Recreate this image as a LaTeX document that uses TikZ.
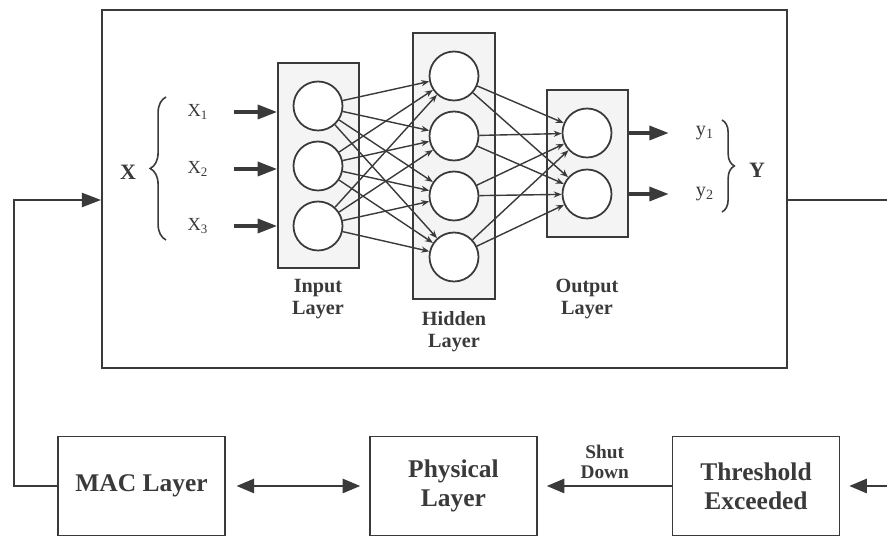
\documentclass[tikz,border=0pt]{standalone}
\usepackage{fontspec}
\setmainfont{Liberation Serif}
\usepackage{tikz}
\usetikzlibrary{arrows.meta, positioning, decorations.pathreplacing}
\definecolor{ink}{HTML}{3A3A3A}
\tikzset{%
	neuron/.style={
		circle,
		draw=ink,
		fill=white,
		line width=1pt,
		minimum size=0.98cm
	},
	layerbox/.style={
		draw=ink,
		fill=gray!9,
		line width=1.1pt,
		inner sep=0pt
	},
	layername/.style={
		text=ink,
		align=center,
		font=\fontsize{11.5}{12.5}\selectfont\bfseries
	},
	block/.style={
		draw=ink,
		line width=1.1pt,
		minimum width=3.34cm,
		minimum height=1.98cm,
		align=center,
		text=ink,
		font=\fontsize{14.5}{16.5}\selectfont\bfseries
	},
	link/.style={draw=ink, line width=0.8pt, -{Stealth[length=4.5pt,width=3.5pt]}},
	feed/.style={draw=ink, line width=1.8pt, -{Triangle[length=11pt,width=8pt]}},
	flow/.style={draw=ink, line width=1.4pt},
}

\begin{document}
\begin{tikzpicture}[x=0.02cm, y=-0.02cm, text=ink]
	\useasboundingbox (0,0) rectangle (887,536);

	% network frame
	\node[draw=ink, line width=1.1pt, minimum width=13.7cm, minimum height=7.16cm] (main) at (444.5,189) {};

	\node[layerbox, minimum width=1.62cm, minimum height=4.1cm] (inbox) at (318.5,165.5) {};
	\node[layerbox, minimum width=1.64cm, minimum height=5.32cm] (hidbox) at (454,166) {};
	\node[layerbox, minimum width=1.62cm, minimum height=2.94cm] (outbox) at (587.5,163.5) {};

	\foreach \i/\y in {1/106, 2/166, 3/226}
		\node[neuron] (I\i) at (318,\y) {};
	\foreach \i/\y in {1/76, 2/136, 3/196, 4/257}
		\node[neuron] (H\i) at (454,\y) {};
	\foreach \i/\y in {1/133, 2/194}
		\node[neuron] (O\i) at (587,\y) {};

	\foreach \i in {1,2,3}
		\foreach \j in {1,2,3,4}
			\draw[link] (I\i) -- (H\j);
	\foreach \j in {1,2,3,4}
		\foreach \k in {1,2}
			\draw[link] (H\j) -- (O\k);

	\node[layername] (inname) at (318,299) {Input\\Layer};
	\node[layername] (hidname) at (454,332) {Hidden\\Layer};
	\node[layername] (outname) at (587,299) {Output\\Layer};

	% inputs
	\node[font=\fontsize{12.5}{13}\selectfont\bfseries] (X) at (128,172) {X};
	\draw[ink, line width=0.9pt, decorate, decoration={brace, amplitude=9pt}] (166,240) -- (166,97);
	\foreach \i/\y in {1/112, 2/169, 3/226} {
		\node[font=\fontsize{10.5}{11}\selectfont] (x\i) at (198,\y) {X\textsubscript{\i}};
		\draw[feed, shorten <=11pt] (x\i.east) -- (x\i.east -| inbox.west);
	}

	% outputs
	\foreach \i/\y in {1/133, 2/194} {
		\node[font=\fontsize{11.5}{12}\selectfont] (y\i) at (705,\y) {y\textsubscript{\i}};
		\draw[feed, shorten >=12pt] (outbox.east |- O\i) -- (y\i.west);
	}
	\draw[ink, line width=0.9pt, decorate, decoration={brace, amplitude=7pt}] (722,120) -- (722,212);
	\node[font=\fontsize{12.5}{13}\selectfont\bfseries] (Y) at (757,170) {Y};

	% lower chain
	\node[block] (mac) at (141.5,486) {MAC Layer};
	\node[block] (phy) at (453.5,486) {Physical\\Layer};
	\node[block] (thr) at (756,486) {Threshold\\Exceeded};

	\draw[flow, {Triangle[length=10pt,width=8pt]}-{Triangle[length=10pt,width=8pt]}, shorten <=6pt, shorten >=5pt] (mac) -- (phy);
	\draw[flow, -{Triangle[length=10pt,width=8pt]}, shorten >=5pt] (thr) -- node[above, font=\fontsize{11}{11.5}\selectfont\bfseries, align=center] (shut) {Shut\\Down} (phy);

	% feedback loop
	\coordinate (rturn) at (900,200);
	\draw[flow, -{Triangle[length=10pt,width=8pt]}, shorten >=5pt] (main.east |- rturn) -- (rturn) |- (thr.east);
	\coordinate (lturn) at (14,200);
	\draw[flow, -{Triangle[length=11pt,width=8pt]}] (mac.west) -| (lturn) -- (main.west |- lturn);
\end{tikzpicture}
\end{document}
